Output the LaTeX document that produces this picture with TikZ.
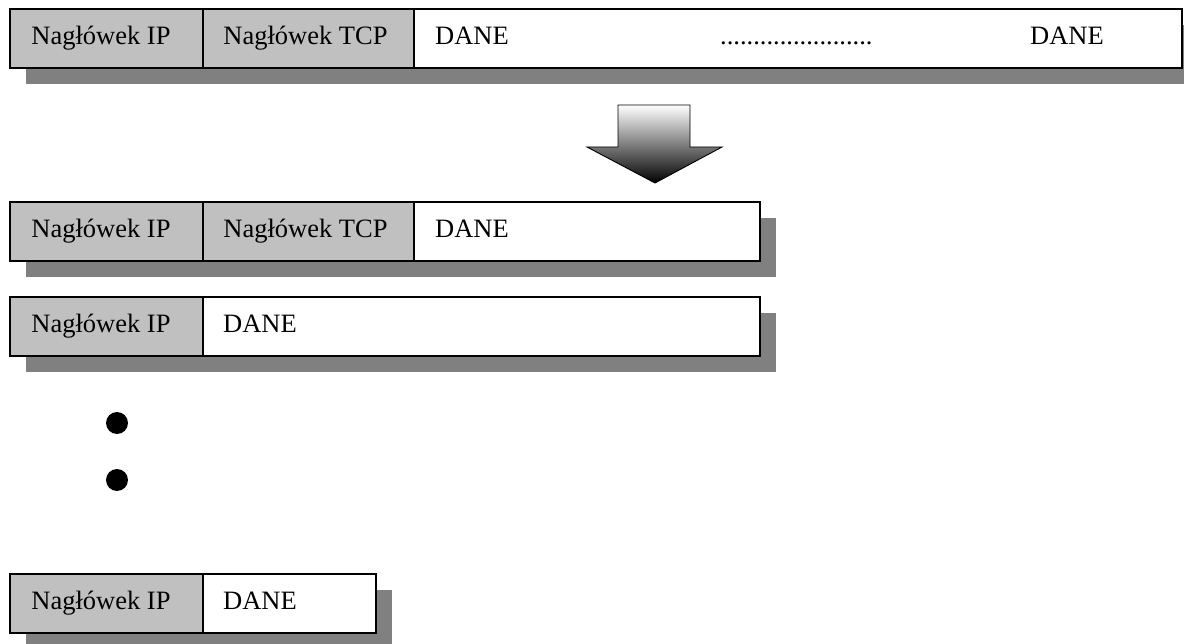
\documentclass[tikz,border=0pt]{standalone}
\usepackage{fontspec}
\setmainfont{Liberation Serif}
\usetikzlibrary{backgrounds}
\definecolor{cellgray}{RGB}{192,192,192}
\definecolor{shadowgray}{RGB}{128,128,128}
\begin{document}
\begin{tikzpicture}[x=1pt,y=-1pt,
  cell/.style={draw=black, line width=1.9pt, minimum height=59pt, inner sep=0pt, outer sep=0pt,
    anchor=north west, font=\fontsize{26.5}{30}\selectfont, text height=18pt, text depth=6pt},
  hdr/.style={cell, fill=cellgray},
  dat/.style={cell, fill=white},
  txt/.style={inner sep=0pt, font=\fontsize{26.5}{30}\selectfont, anchor=base west},
  shadowbox/.style={fill=shadowgray},
  bulletdot/.style={circle, fill=black, minimum size=22pt, inner sep=0pt},
  bigarrow/.style={top color=white, bottom color=black, draw=black, line width=0.9pt}]
\useasboundingbox (0,0) rectangle (1184,644);
\clip (0,0) rectangle (1184,644);

% Row 1
\node[hdr, minimum width=193pt] (ip1) at (10,9) {Nagłówek IP\kern11pt};
\node[hdr, minimum width=211pt] (tcp1) at (ip1.north east) {Nagłówek TCP\kern6pt};
\node[dat, minimum width=768pt] (d1) at (tcp1.north east) {};
\node[txt] (d1a) at ([shift={(21,6)}]d1.west) {DANE};
\node[txt] (d1b) at ([shift={(306,6)}]d1.west) {.......................};
\node[txt] (d1c) at ([shift={(616,6)}]d1.west) {DANE};

% Arrow
\shadedraw[bigarrow] (618,105) -- (690,105) -- (690,147) -- (722,147) -- (655,183)
  -- (587,147) -- (618,147) -- cycle;

% Row 2
\node[hdr, minimum width=193pt] (ip2) at (10,202) {Nagłówek IP\kern11pt};
\node[hdr, minimum width=211pt] (tcp2) at (ip2.north east) {Nagłówek TCP\kern6pt};
\node[dat, minimum width=346pt] (d2) at (tcp2.north east) {};
\node[txt] (d2a) at ([shift={(21,6)}]d2.west) {DANE};

% Row 3
\node[hdr, minimum width=193pt] (ip3) at (10,297) {Nagłówek IP\kern11pt};
\node[dat, minimum width=557pt] (d3) at (ip3.north east) {};
\node[txt] (d3a) at ([shift={(20,6)}]d3.west) {DANE};

% Bullets
\node[bulletdot] (b1) at (117,423) {};
\node[bulletdot] (b2) at (117,480) {};

% Row 4
\node[hdr, minimum width=193pt] (ip4) at (10,574) {Nagłówek IP\kern11pt};
\node[dat, minimum width=173pt] (d4) at (ip4.north east) {};
\node[txt] (d4a) at ([shift={(20,6)}]d4.west) {DANE};

% Shadows
\begin{scope}[on background layer]
\fill[shadowbox] ([shift={(16,16)}]ip1.north west) rectangle ([shift={(16,16)}]d1.south east);
\fill[shadowbox] ([shift={(16,16)}]ip2.north west) rectangle ([shift={(16,16)}]d2.south east);
\fill[shadowbox] ([shift={(16,16)}]ip3.north west) rectangle ([shift={(16,16)}]d3.south east);
\fill[shadowbox] ([shift={(16,16)}]ip4.north west) rectangle ([shift={(16,16)}]d4.south east);
\end{scope}
\end{tikzpicture}
\end{document}
